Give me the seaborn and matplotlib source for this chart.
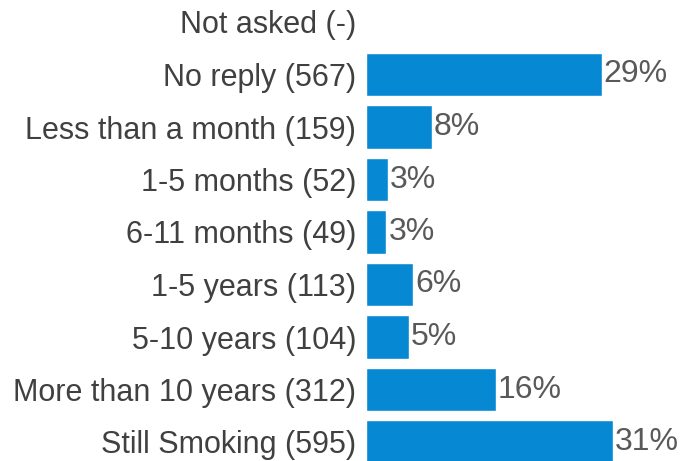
import matplotlib
matplotlib.use("Agg")
import matplotlib.pyplot as plt
import seaborn as sns
import pandas as pd

categories = ["Not asked (-)", "No reply (567)", "Less than a month (159)", "1-5 months (52)",
              "6-11 months (49)", "1-5 years (113)", "5-10 years (104)",
              "More than 10 years (312)", "Still Smoking (595)"]
counts = [0, 567, 159, 52, 49, 113, 104, 312, 595]
pct_labels = ["", "29%", "8%", "3%", "3%", "6%", "5%", "16%", "31%"]

sns.set_theme(style="white")
plt.rcParams['font.family'] = ['Liberation Sans', 'DejaVu Sans']

W, H = 687, 461
fig = plt.figure(figsize=(W / 100, H / 100), dpi=100)
ax = fig.add_axes([366 / W, 0, 1 - 366 / W, 1])

df = pd.DataFrame({"cat": categories, "count": counts})
sns.barplot(data=df, x="count", y="cat", order=categories, color="#0788D3",
            saturation=1, width=0.82, ax=ax, orient="h")

xmax = (W - 366) / 0.4155
ax.set_xlim(0, xmax)
top = -22 / 52.5
bot = (H - 22) / 52.5
ax.set_ylim(bot, top)

for i, (c, lab) in enumerate(zip(counts, pct_labels)):
    if lab:
        ax.text(c + 2 / 0.4155, i, lab, va="center", ha="left",
                fontsize=23, color="#595959")

ax.set_xlabel("")
ax.set_ylabel("")
ax.set_xticks([])
ax.tick_params(axis="y", length=0, pad=7, labelsize=22, labelcolor="#404040")
for s in ax.spines.values():
    s.set_visible(False)

fig.savefig("out.png", dpi=100)
